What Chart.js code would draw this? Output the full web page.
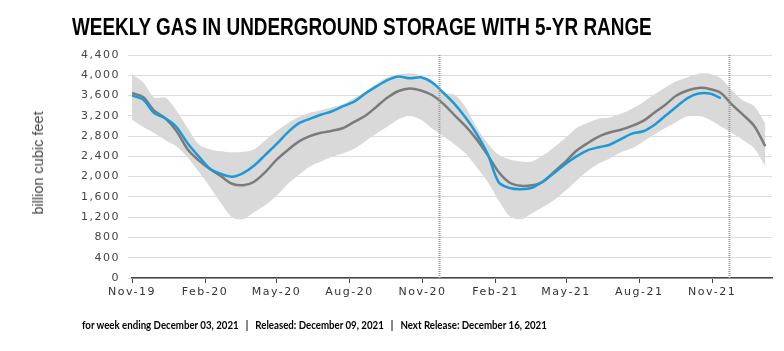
<!DOCTYPE html>
<html>
<head>
<meta charset="utf-8">
<script src="https://cdn.jsdelivr.net/npm/chart.js@4.4.0/dist/chart.umd.min.js"></script>
<style>
  body { margin: 0; background: #fff; }
  #wrap { position: relative; width: 784px; height: 351px; overflow: hidden; }
  #titulo {
    position: absolute; left: 72px; top: 13px;
    font: bold 24px 'Liberation Sans', Arial, sans-serif;
    color: #000; white-space: nowrap; transform-origin: 0 0;
  }
  #rodape {
    position: absolute; left: 82px; top: 317px;
    font: bold 12px Lato, 'Liberation Sans', sans-serif;
    color: #000; white-space: pre; transform-origin: 0 0;
  }
  #eixoY {
    position: absolute; left: 38px; top: 163px;
    transform: translate(-50%, -50%) rotate(-90deg);
    font: 14.5px 'Liberation Sans', Arial, sans-serif;
    color: #444; white-space: nowrap;
  }
  canvas { position: absolute; left: 0; top: 0; }
</style>
</head>
<body>
<div id="wrap">
  <canvas id="grafico" width="784" height="351"></canvas>
  <div id="titulo">WEEKLY GAS IN UNDERGROUND STORAGE WITH 5-YR RANGE</div>
  <div id="eixoY">billion cubic feet</div>
  <div id="rodape">for week ending December 03, 2021   |   Released: December 09, 2021   |   Next Release: December 16, 2021</div>
</div>
<script>
// semanas desde 1 nov 2019 (amostra a cada 2 semanas)
const semanas = [0,2,4,6,8,10,12,14,16,18,20,22,24,26,28,30,32,34,36,38,40,42,44,46,48,50,52,54,56,58,60,62,64,66,68,70,72,74,76,78,80,82,84,86,88,90,92,94,96,98,100,102,104,106,108,110,112,114];

// estoque atual (Bcf)
const estoque = [3600,3520,3255,3150,2980,2660,2400,2160,2055,2000,2070,2220,2430,2640,2870,3050,3140,3220,3290,3390,3480,3640,3780,3905,3975,3940,3960,3860,3660,3440,3170,2850,2450,1890,1775,1752,1780,1910,2070,2250,2400,2520,2580,2630,2740,2850,2895,3020,3200,3380,3550,3640,3640,3550];

// média de 5 anos
const media5 = [3650,3570,3300,3150,2900,2540,2320,2150,2010,1860,1830,1900,2090,2330,2520,2690,2800,2865,2905,2960,3080,3200,3380,3560,3690,3740,3700,3610,3440,3220,3000,2740,2430,2090,1880,1818,1830,1900,2100,2290,2510,2660,2790,2870,2925,3000,3100,3260,3420,3600,3700,3750,3730,3650,3420,3220,3000,2600];

// faixa de 5 anos
const faixaMax = [4020,3860,3560,3560,3300,2960,2640,2540,2500,2480,2490,2540,2720,2900,3050,3175,3260,3310,3370,3430,3550,3680,3830,3960,4010,4040,3990,3830,3640,3620,3380,2980,2660,2430,2340,2300,2300,2420,2580,2760,2960,3060,3140,3165,3240,3340,3470,3620,3760,3880,3960,4030,4030,3940,3700,3500,3390,3050];
const faixaMin = [3120,2980,2860,2720,2600,2380,2100,1800,1480,1200,1160,1300,1440,1620,1850,2030,2200,2300,2390,2460,2550,2700,2850,2990,3130,3200,3120,2950,2800,2640,2460,2190,1900,1530,1220,1160,1280,1400,1540,1720,1920,2110,2260,2360,2480,2560,2690,2830,2960,3080,3190,3205,3120,2990,2860,2720,2560,2200];

// eixo x
const tickSemanas = [0, 13.14, 26, 39.14, 52.29, 65.43, 78.14, 91.29, 104.43];
const tickRotulos = ['Nov-19','Feb-20','May-20','Aug-20','Nov-20','Feb-21','May-21','Aug-21','Nov-21'];
const semanasRelease = [55.2, 107.4];
const yTicks = [0,400,800,1200,1600,2000,2400,2800,3200,3600,4000,4400];

function pontos(valores) {
    return valores.map((v, i) => ({ x: semanas[i], y: v }));
}

// ajusta largura do texto (sem fonte condensada disponível)
function ajustarLargura(id, largura) {
    const el = document.getElementById(id);
    el.style.transform = 'scaleX(' + (largura / el.offsetWidth) + ')';
}
ajustarLargura('titulo', 580);
ajustarLargura('rodape', 465);

// rótulos dos eixos mais espaçados, como no original
const espacamento = {
    id: 'espacamento',
    beforeDraw(chart) {
        chart.ctx.letterSpacing = '1.5px';
    }
};

// linhas pontilhadas verticais
const linhasRelease = {
    id: 'linhasRelease',
    afterDatasetsDraw(chart) {
        const { ctx, chartArea, scales } = chart;
        ctx.save();
        ctx.strokeStyle = '#9a9a9a';
        ctx.lineWidth = 2;
        ctx.setLineDash([1, 1]);
        semanasRelease.forEach(w => {
            const x = Math.round(scales.x.getPixelForValue(w)) + 0.5;
            ctx.beginPath();
            ctx.moveTo(x, chartArea.top);
            ctx.lineTo(x, chartArea.bottom);
            ctx.stroke();
        });
        ctx.restore();
    }
};

const ctx = document.getElementById('grafico').getContext('2d');
new Chart(ctx, {
    type: 'line',
    data: {
        datasets: [
            { data: pontos(estoque), borderColor: '#1b9ad6', borderWidth: 2.5, pointRadius: 0, fill: false, tension: 0.3 },
            { data: pontos(media5), borderColor: '#7b7b7b', borderWidth: 2.5, pointRadius: 0, fill: false, tension: 0.3 },
            { data: pontos(faixaMax), borderWidth: 0, borderColor: 'rgba(0,0,0,0)', pointRadius: 0, backgroundColor: '#d9d9d9', fill: '+1', tension: 0.3 },
            { data: pontos(faixaMin), borderWidth: 0, borderColor: 'rgba(0,0,0,0)', pointRadius: 0, fill: false, tension: 0.3 }
        ]
    },
    options: {
        responsive: false,
        animation: false,
        layout: { padding: { top: 55, right: 12, bottom: 0, left: 0 } },
        plugins: { legend: { display: false }, tooltip: { enabled: false } },
        scales: {
            x: {
                type: 'linear',
                min: 0,
                max: 115.2,
                afterBuildTicks: (scale) => { scale.ticks = tickSemanas.map(v => ({ value: v })); },
                afterFit: (scale) => { scale.height = 73; },
                ticks: {
                    autoSkip: false,
                    maxRotation: 0,
                    padding: 3,
                    color: '#333',
                    font: { family: "'DejaVu Sans'", size: 11 },
                    callback: (v, i) => tickRotulos[i]
                },
                grid: { display: true, drawOnChartArea: false, tickLength: 5, color: '#444', lineWidth: 1 },
                border: { display: true, color: '#444', width: 1.5 }
            },
            y: {
                min: 0,
                max: 4400,
                afterBuildTicks: (scale) => { scale.ticks = yTicks.map(v => ({ value: v })); },
                afterFit: (scale) => { scale.width = 132; },
                ticks: {
                    padding: 8,
                    color: '#444',
                    font: { family: "'DejaVu Sans'", size: 11 },
                    callback: v => v.toLocaleString('en-US')
                },
                grid: { color: '#dcdcdc', lineWidth: 1, tickLength: 4 },
                border: { display: false }
            }
        }
    },
    plugins: [espacamento, linhasRelease]
});
</script>
</body>
</html>
